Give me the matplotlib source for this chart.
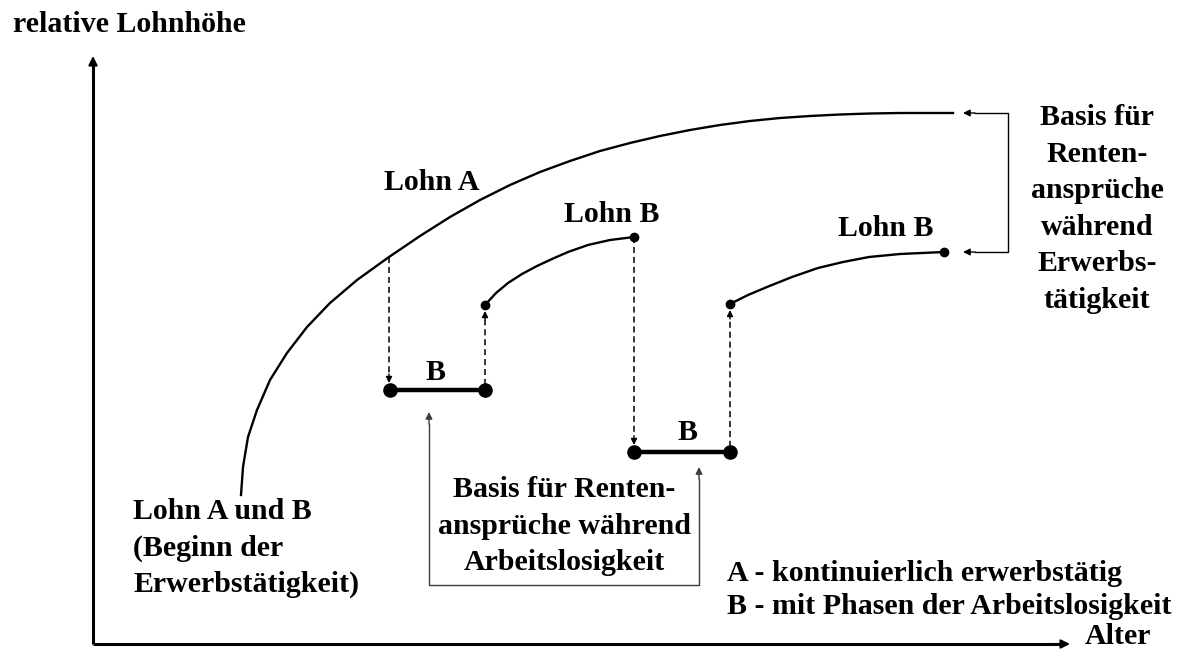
import numpy as np
import matplotlib
matplotlib.use('Agg')
import matplotlib.pyplot as plt

plt.rcParams['font.family'] = ['Liberation Serif', 'DejaVu Serif']
plt.rcParams['font.weight'] = 'bold'

# wage path A (continuously employed), age / relative wage units
wage_a_age = [148, 150, 155, 164, 177, 194, 214, 237, 264, 296, 327, 357,
              387, 417, 447, 477, 507, 537, 567, 597, 627, 657, 687, 717,
              747, 777, 807, 837, 860]
wage_a_val = [149, 177, 207, 234, 264, 291, 317, 341, 364, 387, 408, 427,
              444, 459, 472, 483, 493, 501, 508, 514, 519, 523, 526, 528,
              529.5, 530.5, 531, 531, 531]

# wage path B after first and second unemployment spell
wage_b1_age = [392, 403, 415, 429, 444, 459, 475, 495, 517, 541]
wage_b1_val = [339, 351, 361, 370, 378, 385, 392, 399, 404, 407]
wage_b2_age = [637, 655, 674, 699, 725, 750, 776, 807, 851]
wage_b2_val = [340, 349, 357, 367, 376, 382, 387, 390, 392]

# unemployment spells (start age, end age, level of pension basis)
gap_start = [297, 541]
gap_end = [392, 637]
gap_level = [254, 192]

fig = plt.figure(figsize=(11.84, 6.5), dpi=100)
ax = fig.add_axes([0, 0, 1, 1])
ax.set_xlim(-93, 1091)
ax.set_ylim(-6, 644)
ax.axis('off')

black = '#000000'
grey = '#3c3c3c'


def head(tip, frm, color=black, lw=1.0, ms=11):
    ax.annotate('', xy=tip, xytext=frm,
                arrowprops=dict(arrowstyle='-|>', color=color, lw=lw,
                                mutation_scale=ms, shrinkA=0, shrinkB=0))


# axes of the diagram
ax.plot([0, 0], [0, 580], color=black, lw=2.2, solid_capstyle='butt')
ax.plot([0, 970], [0, 0], color=black, lw=2.2, solid_capstyle='butt')
head((0, 588), (0, 570), lw=1.5, ms=13)
head((977, 0), (960, 0), lw=1.5, ms=13)

# wage curves
ax.plot(wage_a_age, wage_a_val, color=black, lw=1.7, solid_joinstyle='round')
ax.plot(wage_b1_age, wage_b1_val, color=black, lw=1.7, solid_joinstyle='round')
ax.plot(wage_b2_age, wage_b2_val, color=black, lw=1.7, solid_joinstyle='round')
ax.plot([wage_b1_age[0], wage_b1_age[-1], wage_b2_age[0], wage_b2_age[-1]],
        [wage_b1_val[0], wage_b1_val[-1], wage_b2_val[0], wage_b2_val[-1]],
        'o', color=black, ms=6)

# unemployment spells
for s, e, lv in zip(gap_start, gap_end, gap_level):
    ax.plot([s, e], [lv, lv], color=black, lw=3.2, marker='o', ms=9.5)

# dashed jumps: down into unemployment, up back to work
jumps = [(wage_a_age[9], wage_a_val[9], gap_level[0] + 7),
         (gap_end[0], gap_level[0] + 5, wage_b1_val[0] - 6),
         (wage_b1_age[-1], wage_b1_val[-1], gap_level[1] + 7),
         (gap_end[1], gap_level[1] + 5, wage_b2_val[0] - 6)]
for x, y0, y1 in jumps:
    d = 9 if y1 > y0 else -9
    ax.plot([x, x], [y0, y1 - d], color=black, lw=1.1, dashes=(4, 2.5))
    head((x, y1), (x, y1 - d), lw=1.0, ms=9)

# bracket: pension basis during unemployment
bx = [336, 336, 606, 606]
by = [220, 59, 59, 165]
ax.plot(bx, by, color=grey, lw=1.0)
head((336, 232), (336, 220), color=grey, ms=10)
head((606, 177), (606, 165), color=grey, ms=10)

# bracket: pension basis during employment
rx = [882, 915, 915, 882]
ry = [531, 531, 392, 392]
ax.plot(rx, ry, color=black, lw=1.0)
head((870, 531), (882, 531), ms=10)
head((870, 392), (882, 392), ms=10)

fs = 21.5
ax.text(-80, 619, 'relative Lohnhöhe', fontsize=fs, va='center', ha='left')
ax.text(992, 8, 'Alter', fontsize=fs, va='center', ha='left')
ax.text(339, 461, 'Lohn A', fontsize=fs, va='center', ha='center')
ax.text(519, 429, 'Lohn B', fontsize=fs, va='center', ha='center')
ax.text(793, 416, 'Lohn B', fontsize=fs, va='center', ha='center')
ax.text(343, 272, 'B', fontsize=fs, va='center', ha='center')
ax.text(594, 211, 'B', fontsize=fs, va='center', ha='center')
ax.text(1004, 435, 'Basis für\nRenten-\nansprüche\nwährend\nErwerbs-\ntätigkeit',
        fontsize=fs, va='center', ha='center', linespacing=1.46)
ax.text(40, 96, 'Lohn A und B\n(Beginn der\nErwerbstätigkeit)',
        fontsize=fs, va='center', ha='left', linespacing=1.46)
ax.text(471, 118, 'Basis für Renten-\nansprüche während\nArbeitslosigkeit',
        fontsize=fs, va='center', ha='center', linespacing=1.45)
ax.text(634, 54, 'A - kontinuierlich erwerbstätig\nB - mit Phasen der Arbeitslosigkeit',
        fontsize=fs, va='center', ha='left', linespacing=1.33)

fig.savefig('out.png', dpi=100)
